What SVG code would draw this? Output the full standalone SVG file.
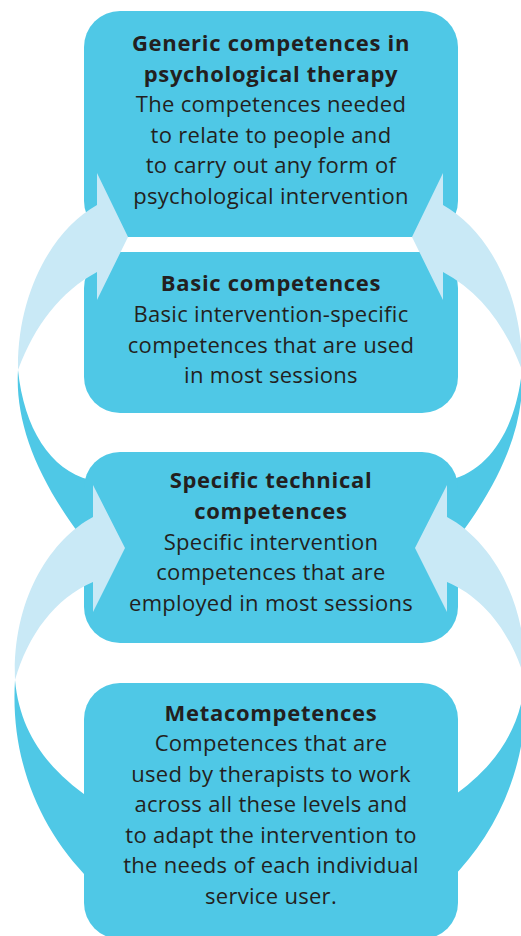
<svg xmlns="http://www.w3.org/2000/svg" width="521" height="936" viewBox="0 0 521 936">
  <style>
    .box { fill: #4fc8e6; }
    .band { fill: #4fc8e6; }
    .arrow { fill: #c9e9f6; }
    text { font-family: "Open Sans", "Noto Sans", "Liberation Sans", sans-serif; font-size: 22px; letter-spacing: 0.3px; fill: #231f20; text-anchor: middle; }
    .b { font-weight: bold; letter-spacing: 0.7px; }
  </style>
  <rect width="521" height="936" fill="#ffffff"/>
  <g id="connectors-back">
    <path class="band" d="M 18,370 C 15,420 35,475 80,535 L 120,520 L 120,490 L 90,480 C 50,470 24,428 18,370 Z"/>
    <path class="band" d="M 15,680 C 10,760 40,830 90,880 L 110,880 L 110,800 L 88,797 C 50,770 20,735 15,680 Z"/>
    <g transform="translate(540,0) scale(-1,1)">
      <path class="band" d="M 18,370 C 15,420 35,475 80,535 L 120,520 L 120,490 L 90,480 C 50,470 24,428 18,370 Z"/>
      <path class="band" d="M 15,680 C 10,760 40,830 90,880 L 110,880 L 110,800 L 88,797 C 50,770 20,735 15,680 Z"/>
    </g>
  </g>
  <g id="node-generic">
    <rect class="box" x="84" y="11" width="374" height="226" rx="36"/>
    <text class="b" x="271" y="51">Generic competences in</text>
    <text class="b" x="271" y="81.5">psychological therapy</text>
    <text x="271" y="112">The competences needed</text>
    <text x="271" y="142.5">to relate to people and</text>
    <text x="271" y="173">to carry out any form of</text>
    <text x="271" y="203.5">psychological intervention</text>
  </g>
  <g id="node-basic">
    <rect class="box" x="84" y="252" width="374" height="161" rx="36"/>
    <text class="b" x="271" y="291">Basic competences</text>
    <text x="271" y="322">Basic intervention-specific</text>
    <text x="271" y="352.5">competences that are used</text>
    <text x="271" y="383">in most sessions</text>
  </g>
  <g id="node-specific">
    <rect class="box" x="84" y="452" width="374" height="191" rx="36"/>
    <text class="b" x="271" y="488">Specific technical</text>
    <text class="b" x="271" y="518.5">competences</text>
    <text x="271" y="549.5">Specific intervention</text>
    <text x="271" y="580">competences that are</text>
    <text x="271" y="610.5">employed in most sessions</text>
  </g>
  <g id="node-meta">
    <rect class="box" x="84" y="683" width="374" height="256" rx="36"/>
    <text class="b" x="271" y="720.5">Metacompetences</text>
    <text x="271" y="751">Competences that are</text>
    <text x="271" y="781.5">used by therapists to work</text>
    <text x="271" y="812">across all these levels and</text>
    <text x="271" y="842.5">to adapt the intervention to</text>
    <text x="271" y="873">the needs of each individual</text>
    <text x="271" y="903.5">service user.</text>
  </g>
  <g id="connectors">
    <path class="arrow" d="M 97,205 C 55,228 17,290 18,370 C 35,325 60,292 97,272 L 97,300 L 128,237 L 97,173 Z"/>
    <path class="arrow" d="M 93,517 C 50,540 12,600 15,680 C 28,635 55,598 93,582 L 93,612 L 125,548 L 93,485 Z"/>
    <g transform="translate(540,0) scale(-1,1)">
      <path class="arrow" d="M 97,205 C 55,228 17,290 18,370 C 35,325 60,292 97,272 L 97,300 L 128,237 L 97,173 Z"/>
      <path class="arrow" d="M 93,517 C 50,540 12,600 15,680 C 28,635 55,598 93,582 L 93,612 L 125,548 L 93,485 Z"/>
    </g>
  </g>
</svg>
